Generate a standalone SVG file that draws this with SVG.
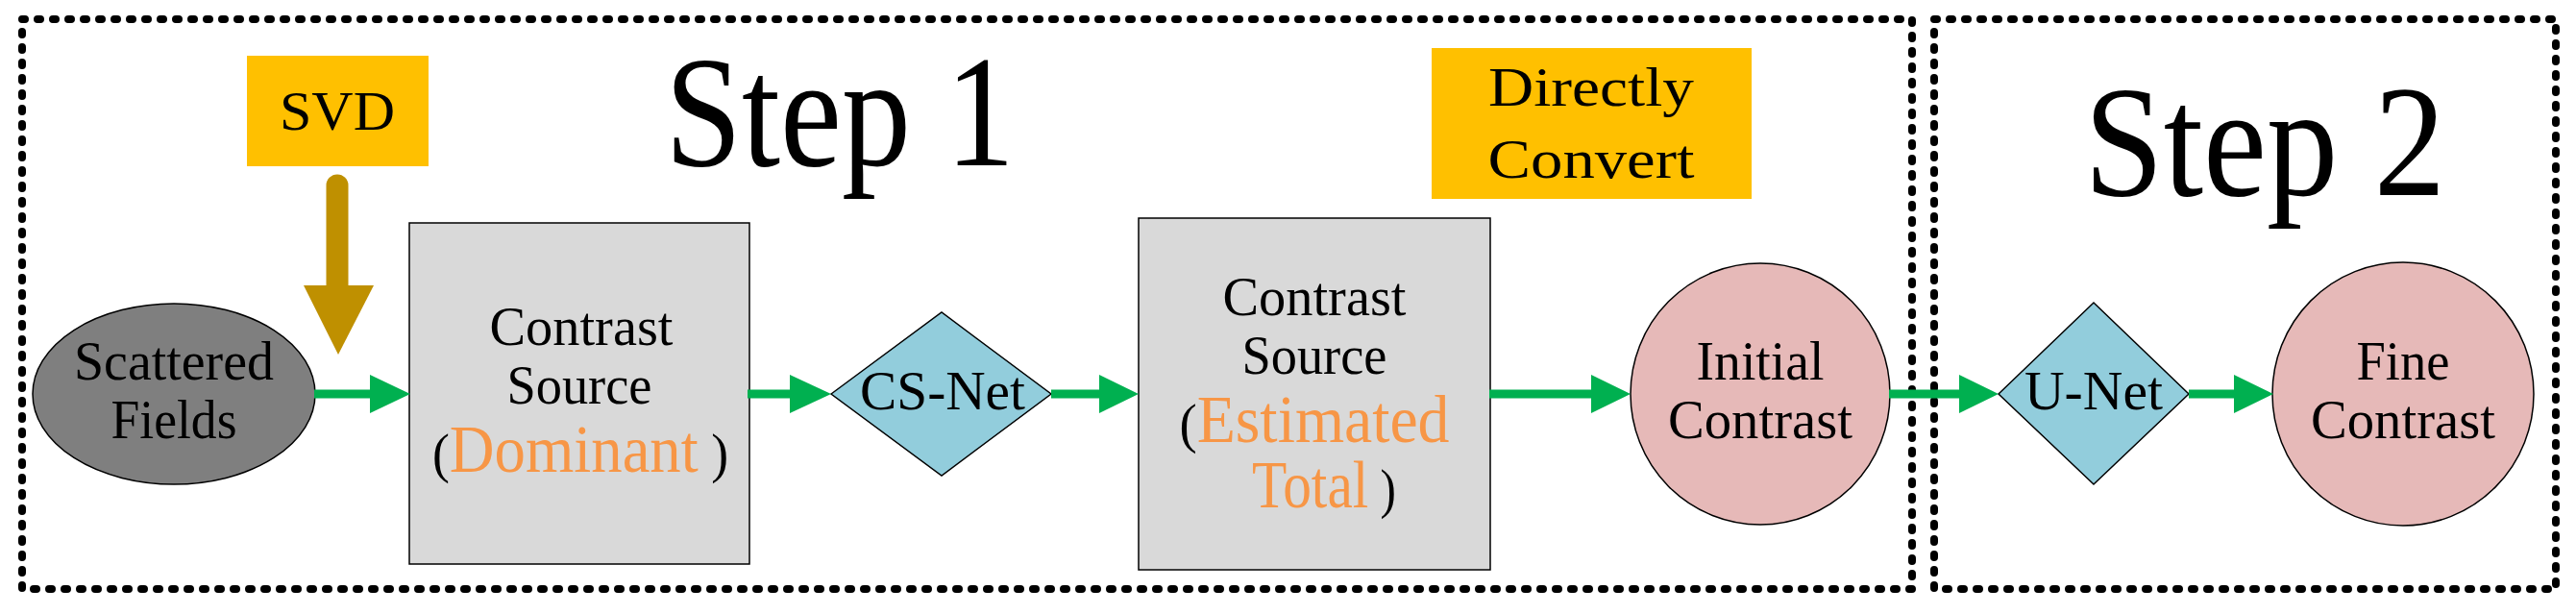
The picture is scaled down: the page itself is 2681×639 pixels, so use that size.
<svg xmlns="http://www.w3.org/2000/svg" width="2681" height="639" viewBox="0 0 2681 639">
<style>
.frame{fill:none;stroke:#000;stroke-width:8;stroke-dasharray:3 13;stroke-linecap:round}
text{font-family:"Liberation Serif","Times New Roman",serif;text-anchor:middle;fill:#000}
.t{font-size:58px}
.o{fill:#F79646}
.g{stroke:#00B050;stroke-width:9;fill:none}
.h{fill:#00B050}
.n{stroke:#000;stroke-width:1.5}
</style>
<rect class="frame" x="23" y="20" width="1967" height="593"/>
<rect class="frame" x="2013" y="20" width="647" height="593"/>
<text x="874" y="172" font-size="165" textLength="364" lengthAdjust="spacingAndGlyphs">Step 1</text>
<text x="2357" y="203" font-size="165" textLength="376" lengthAdjust="spacingAndGlyphs">Step 2</text>
<g id="svd"><rect x="257" y="58" width="189" height="115" fill="#FFC000"/><text class="t" x="351" y="135" font-size="70" textLength="120" lengthAdjust="spacingAndGlyphs">SVD</text></g>
<g id="convert"><rect x="1490" y="50" width="333" height="157" fill="#FFC000"/><text class="t" x="1656" y="110" textLength="214" lengthAdjust="spacingAndGlyphs">Directly</text><text class="t" x="1656" y="185" textLength="215" lengthAdjust="spacingAndGlyphs">Convert</text></g>
<g id="scattered"><ellipse class="n" cx="181" cy="410" rx="147" ry="94" fill="#7F7F7F"/><text class="t" x="181" y="395" textLength="208" lengthAdjust="spacingAndGlyphs">Scattered</text><text class="t" x="181" y="456" textLength="131" lengthAdjust="spacingAndGlyphs">Fields</text></g>
<g id="cs1"><rect class="n" x="426" y="232" width="354" height="355" fill="#D9D9D9"/><text class="t" x="605" y="359" textLength="191" lengthAdjust="spacingAndGlyphs">Contrast</text><text class="t" x="603" y="420" textLength="151" lengthAdjust="spacingAndGlyphs">Source</text><text class="t" x="604" y="491" textLength="308" lengthAdjust="spacingAndGlyphs">(<tspan class="o" font-size="70">Dominant</tspan> )</text></g>
<g id="csnet"><polygon class="n" points="865,410 980,325 1094,410 980,495" fill="#92CDDC"/><text class="t" x="981" y="426" textLength="172" lengthAdjust="spacingAndGlyphs">CS-Net</text></g>
<g id="cs2"><rect class="n" x="1185" y="227" width="366" height="366" fill="#D9D9D9"/><text class="t" x="1368" y="328" textLength="191" lengthAdjust="spacingAndGlyphs">Contrast</text><text class="t" x="1368" y="389" textLength="151" lengthAdjust="spacingAndGlyphs">Source</text><text class="t" x="1368" y="460" textLength="281" lengthAdjust="spacingAndGlyphs">(<tspan class="o" font-size="70">Estimated</tspan></text><text class="t" x="1378" y="528" textLength="150" lengthAdjust="spacingAndGlyphs"><tspan class="o" font-size="70">Total</tspan> )</text></g>
<g id="initial"><ellipse class="n" cx="1832" cy="410" rx="135" ry="136" fill="#E6B9B8"/><text class="t" x="1832" y="395" textLength="133" lengthAdjust="spacingAndGlyphs">Initial</text><text class="t" x="1832" y="456" textLength="192" lengthAdjust="spacingAndGlyphs">Contrast</text></g>
<g id="unet"><polygon class="n" points="2080,410 2179,315 2278,410 2179,504" fill="#92CDDC"/><text class="t" x="2179" y="426" textLength="144" lengthAdjust="spacingAndGlyphs">U-Net</text></g>
<g id="fine"><ellipse class="n" cx="2501" cy="410" rx="136" ry="137" fill="#E6B9B8"/><text class="t" x="2501" y="395" textLength="97" lengthAdjust="spacingAndGlyphs">Fine</text><text class="t" x="2501" y="456" textLength="192" lengthAdjust="spacingAndGlyphs">Contrast</text></g>
<g id="connectors">
<path d="M351,193 V300" stroke="#BF9000" stroke-width="23" stroke-linecap="round"/>
<polygon points="316,297 389,297 352,369" fill="#BF9000"/>
<path class="g" d="M327,410H388"/><polygon class="h" points="385,390 427,410 385,430"/>
<path class="g" d="M778,410H825"/><polygon class="h" points="822,390 865,410 822,430"/>
<path class="g" d="M1094,410H1147"/><polygon class="h" points="1144,390 1185,410 1144,430"/>
<path class="g" d="M1550,410H1659"/><polygon class="h" points="1656,390 1697,410 1656,430"/>
<path class="g" d="M1966,410H2042"/><polygon class="h" points="2039,390 2080,410 2039,430"/>
<path class="g" d="M2278,410H2328"/><polygon class="h" points="2325,390 2366,410 2325,430"/>
</g>
</svg>
